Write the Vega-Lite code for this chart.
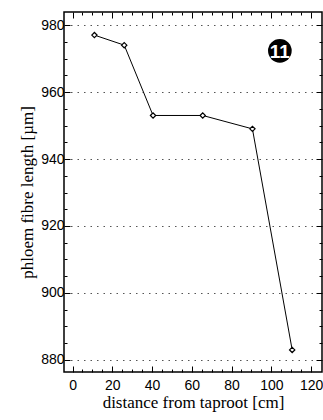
{
  "$schema": "https://vega.github.io/schema/vega-lite/v6.json",
  "autosize": "none",
  "width": 258,
  "height": 360,
  "padding": {"left": 64, "top": 12, "right": 1, "bottom": 48},
  "background": "white",
  "config": {
    "view": {"stroke": "black", "strokeWidth": 1.5},
    "axis": {"domain": false}
  },
  "datasets": {
    "fibre": [
      {"distance": 11, "length": 977},
      {"distance": 26, "length": 974},
      {"distance": 40.5, "length": 953},
      {"distance": 65.5, "length": 953},
      {"distance": 90.5, "length": 949},
      {"distance": 110.5, "length": 883}
    ],
    "badge": [{"distance": 104.3, "length": 972.3, "label": "11"}]
  },
  "resolve": {"axis": {"x": "independent", "y": "independent"}},
  "layer": [
    {
      "data": {"name": "fibre"},
      "mark": {"type": "line", "color": "black", "strokeWidth": 1},
      "encoding": {
        "x": {
          "field": "distance", "type": "quantitative",
          "scale": {"domain": [-4.3, 125.5], "nice": false, "zero": false},
          "axis": {
            "orient": "bottom",
            "title": "distance from taproot [cm]",
            "titleFont": "Liberation Serif", "titleFontSize": 17, "titleFontWeight": "normal", "titleColor": "black",
            "titlePadding": 2,
            "values": [0,5,10,15,20,25,30,35,40,45,50,55,60,65,70,75,80,85,90,95,100,105,110,115,120],
            "labelExpr": "datum.value % 20 === 0 ? datum.label : ''",
            "labelFont": "Liberation Sans", "labelFontSize": 14, "labelColor": "black",
            "labelPadding": 12,
            "tickColor": "black",
            "tickSize": {"condition": {"test": "datum.value % 20 === 0", "value": -6}, "value": -3},
            "grid": false
          }
        },
        "y": {
          "field": "length", "type": "quantitative",
          "scale": {"domain": [876.4, 983.9], "nice": false, "zero": false},
          "axis": {
            "orient": "left",
            "title": "phloem fibre length [µm]",
            "titleFont": "Liberation Serif", "titleFontSize": 17, "titleFontWeight": "normal", "titleColor": "black",
            "titlePadding": 4,
            "values": [880,885,890,895,900,905,910,915,920,925,930,935,940,945,950,955,960,965,970,975,980],
            "labelExpr": "datum.value % 20 === 0 ? datum.label : ''",
            "labelFont": "Liberation Sans", "labelFontSize": 14, "labelColor": "black",
            "labelPadding": 6,
            "tickColor": "black",
            "tickSize": {"condition": {"test": "datum.value % 20 === 0", "value": -6}, "value": -3},
            "grid": true,
            "gridColor": "#555",
            "gridDash": [1.5, 5],
            "gridWidth": 1,
            "gridOpacity": {"condition": {"test": "datum.value % 20 === 0", "value": 1}, "value": 0}
          }
        }
      }
    },
    {
      "data": {"name": "fibre"},
      "mark": {"type": "point", "shape": "diamond", "size": 28, "filled": true, "fill": "white", "stroke": "black", "strokeWidth": 1.2, "opacity": 1},
      "encoding": {
        "x": {
          "field": "distance", "type": "quantitative",
          "axis": {
            "orient": "top", "title": null, "labels": false,
            "values": [0,5,10,15,20,25,30,35,40,45,50,55,60,65,70,75,80,85,90,95,100,105,110,115,120],
            "tickColor": "black",
            "tickSize": {"condition": {"test": "datum.value % 20 === 0", "value": -6}, "value": -3},
            "grid": false
          }
        },
        "y": {
          "field": "length", "type": "quantitative",
          "axis": {
            "orient": "right", "title": null, "labels": false,
            "values": [880,885,890,895,900,905,910,915,920,925,930,935,940,945,950,955,960,965,970,975,980],
            "tickColor": "black",
            "tickSize": {"condition": {"test": "datum.value % 20 === 0", "value": -6}, "value": -3},
            "grid": false
          }
        }
      }
    },
    {
      "data": {"name": "badge"},
      "mark": {"type": "circle", "size": 560, "color": "black", "opacity": 1},
      "encoding": {
        "x": {"field": "distance", "type": "quantitative", "axis": null},
        "y": {"field": "length", "type": "quantitative", "axis": null}
      }
    },
    {
      "data": {"name": "badge"},
      "mark": {"type": "text", "color": "white", "font": "Liberation Sans", "fontWeight": "bold", "fontSize": 19, "baseline": "middle", "align": "center", "dy": 1, "letterSpacing": -1},
      "encoding": {
        "x": {"field": "distance", "type": "quantitative", "axis": null},
        "y": {"field": "length", "type": "quantitative", "axis": null},
        "text": {"field": "label"}
      }
    }
  ]
}
